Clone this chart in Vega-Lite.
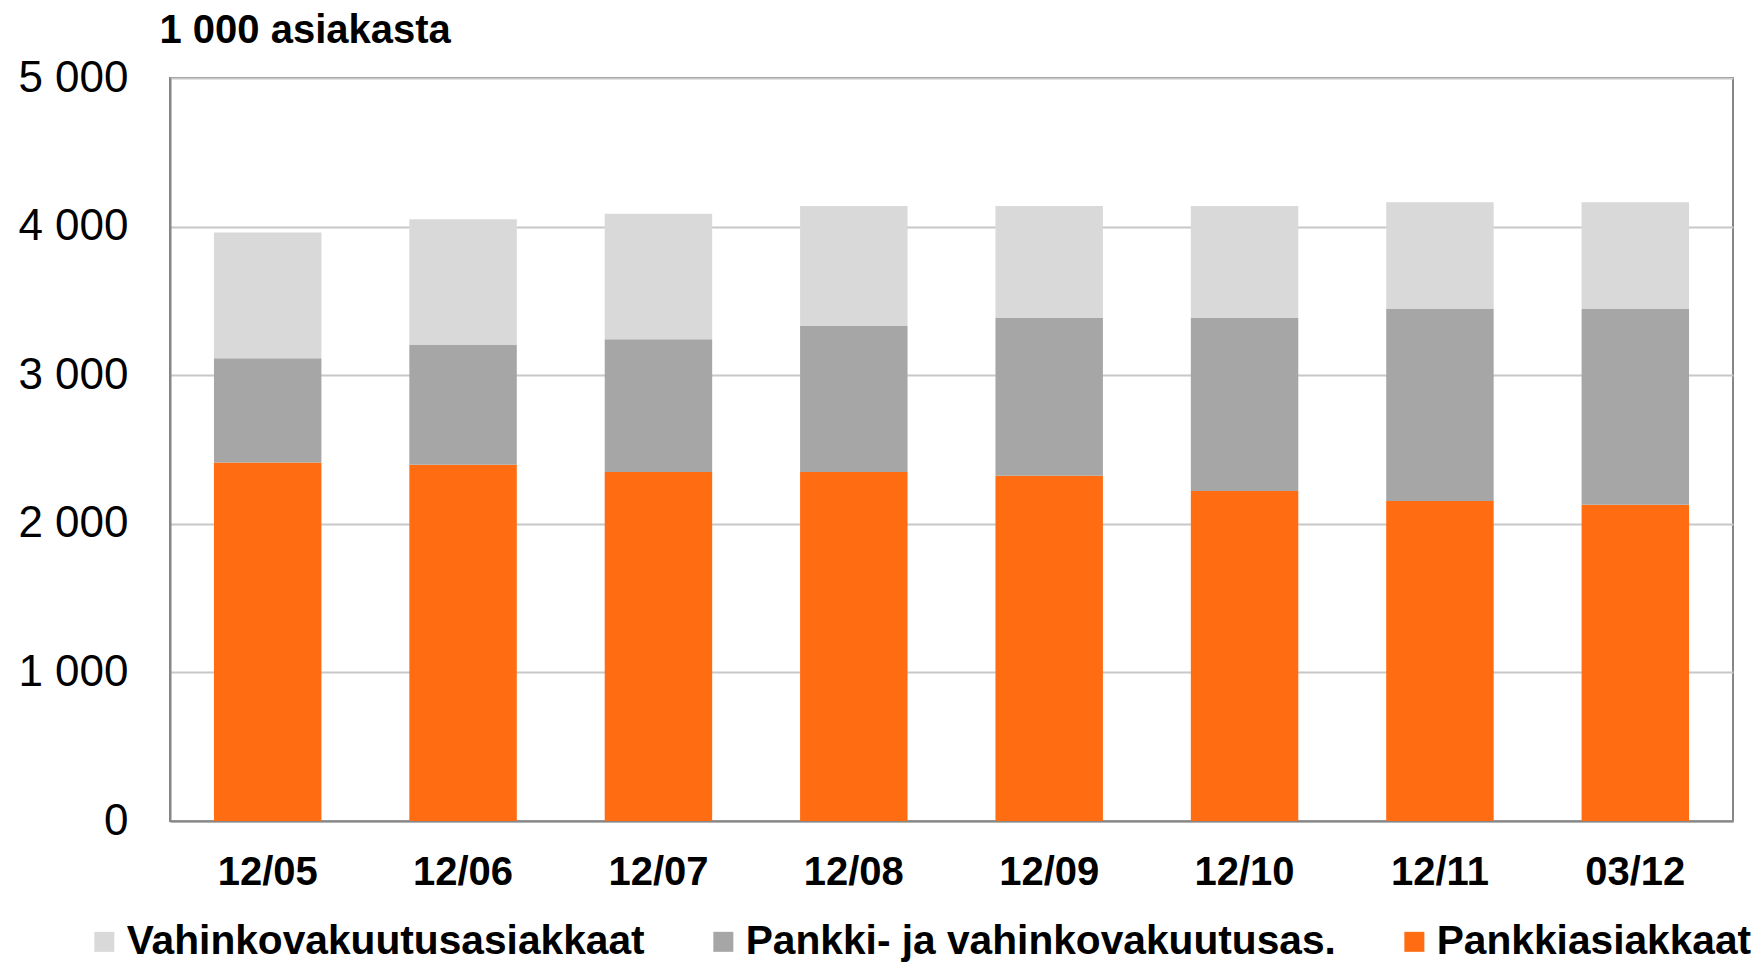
{
  "$schema": "https://vega.github.io/schema/vega-lite/v6.json",
  "width": 1563,
  "height": 743,
  "autosize": {"type": "none"},
  "padding": {"left": 170, "top": 78, "right": 18, "bottom": 142},
  "background": "white",
  "config": {"view": {"stroke": "#868686", "strokeWidth": 2}, "font": "Liberation Sans"},
  "data": {"values": [
    {"period": "12/05", "series": "Pankkiasiakkaat", "value": 2412},
    {"period": "12/06", "series": "Pankkiasiakkaat", "value": 2398},
    {"period": "12/07", "series": "Pankkiasiakkaat", "value": 2349},
    {"period": "12/08", "series": "Pankkiasiakkaat", "value": 2349},
    {"period": "12/09", "series": "Pankkiasiakkaat", "value": 2324},
    {"period": "12/10", "series": "Pankkiasiakkaat", "value": 2221},
    {"period": "12/11", "series": "Pankkiasiakkaat", "value": 2154},
    {"period": "03/12", "series": "Pankkiasiakkaat", "value": 2129},
    {"period": "12/05", "series": "Pankki- ja vahinkovakuutusas.", "value": 702},
    {"period": "12/06", "series": "Pankki- ja vahinkovakuutusas.", "value": 805},
    {"period": "12/07", "series": "Pankki- ja vahinkovakuutusas.", "value": 893},
    {"period": "12/08", "series": "Pankki- ja vahinkovakuutusas.", "value": 982},
    {"period": "12/09", "series": "Pankki- ja vahinkovakuutusas.", "value": 1061},
    {"period": "12/10", "series": "Pankki- ja vahinkovakuutusas.", "value": 1164},
    {"period": "12/11", "series": "Pankki- ja vahinkovakuutusas.", "value": 1292},
    {"period": "03/12", "series": "Pankki- ja vahinkovakuutusas.", "value": 1317},
    {"period": "12/05", "series": "Vahinkovakuutusasiakkaat", "value": 846},
    {"period": "12/06", "series": "Vahinkovakuutusasiakkaat", "value": 846},
    {"period": "12/07", "series": "Vahinkovakuutusasiakkaat", "value": 845},
    {"period": "12/08", "series": "Vahinkovakuutusasiakkaat", "value": 808},
    {"period": "12/09", "series": "Vahinkovakuutusasiakkaat", "value": 754},
    {"period": "12/10", "series": "Vahinkovakuutusasiakkaat", "value": 754},
    {"period": "12/11", "series": "Vahinkovakuutusasiakkaat", "value": 718},
    {"period": "03/12", "series": "Vahinkovakuutusasiakkaat", "value": 718}
  ]},
  "transform": [
    {"window": [{"op": "row_number", "as": "stackRank"}], "groupby": ["period"]}
  ],
  "mark": {"type": "bar"},
  "encoding": {
    "x": {
      "field": "period", "type": "nominal", "sort": null,
      "scale": {"paddingInner": 0.45, "paddingOuter": 0.225},
      "axis": {
        "title": null, "labelAngle": 0, "labelFontSize": 40, "labelFontWeight": "bold",
        "labelColor": "black", "labelPadding": 31, "ticks": false,
        "domainColor": "#868686", "domainWidth": 2
      }
    },
    "y": {
      "field": "value", "type": "quantitative", "stack": "zero",
      "scale": {"domain": [0, 5000], "nice": false},
      "axis": {
        "values": [0, 1000, 2000, 3000, 4000, 5000],
        "labelExpr": "replace(format(datum.value, ','), ',', ' ')",
        "labelFontSize": 44, "labelColor": "black", "labelPadding": 42, "ticks": false,
        "gridColor": "#C8C8C8", "gridWidth": 2,
        "domainColor": "#868686", "domainWidth": 2,
        "title": "1 000 asiakasta", "titleAngle": 0, "titleX": -11, "titleY": -36,
        "titleAlign": "left", "titleBaseline": "alphabetic",
        "titleFontSize": 40, "titleFontWeight": "bold", "titleColor": "black"
      }
    },
    "order": {"field": "stackRank", "type": "quantitative", "sort": "ascending"},
    "color": {
      "field": "series", "type": "nominal",
      "scale": {
        "domain": ["Vahinkovakuutusasiakkaat", "Pankki- ja vahinkovakuutusas.", "Pankkiasiakkaat"],
        "range": ["#D9D9D9", "#A6A6A6", "#FF6C12"]
      },
      "legend": {
        "orient": "none", "legendX": -86, "legendY": 843, "direction": "horizontal",
        "padding": 0,
        "title": null, "symbolType": "square", "symbolSize": 400, "symbolStrokeWidth": 0,
        "labelFontSize": 40.7, "labelFontWeight": "bold", "labelColor": "black",
        "labelOffset": 2, "columnPadding": 58, "labelLimit": 0
      }
    }
  }
}
